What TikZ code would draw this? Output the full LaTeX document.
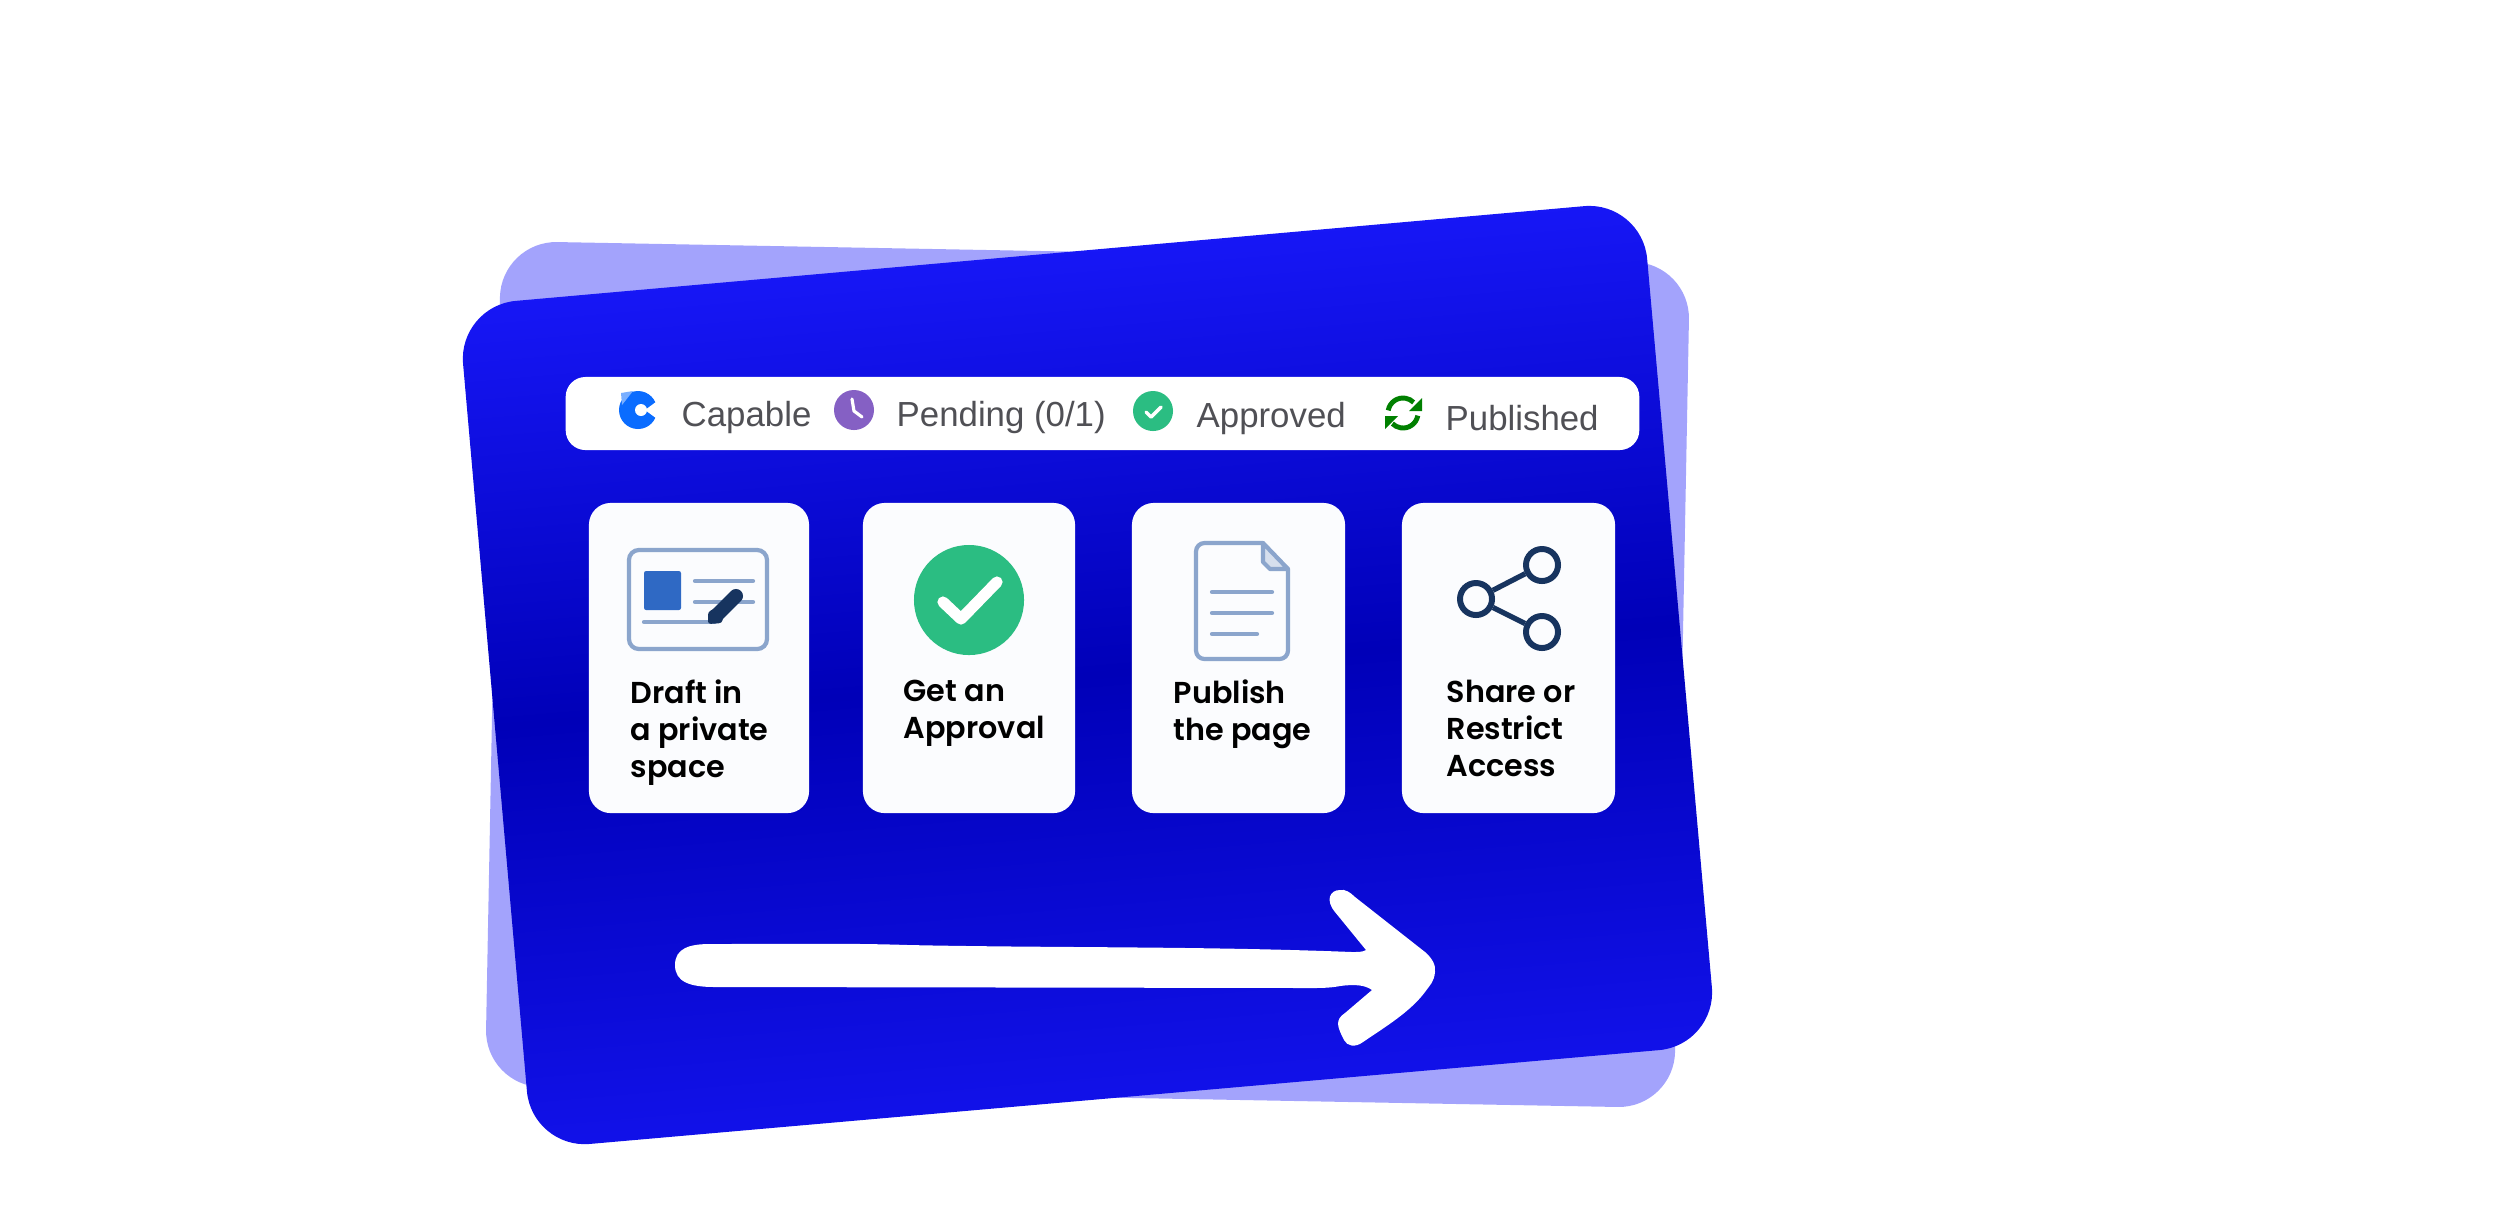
\documentclass[tikz,border=0pt]{standalone}
\usepackage{fontspec}
\setmainfont{Liberation Sans}
\newfontfamily\cardfont{Poppins}[UprightFont=* SemiBold]
\usetikzlibrary{arrows.meta, positioning}

\definecolor{backblue}{HTML}{A3A3FC}
\definecolor{topblue}{HTML}{1A1AFF}
\definecolor{darkblue}{HTML}{0000B8}
\definecolor{lowblue}{HTML}{1414F0}
\definecolor{cardwhite}{HTML}{FBFCFE}
\definecolor{iconline}{HTML}{8BA5CC}
\definecolor{iconblue}{HTML}{2F69C4}
\definecolor{icondark}{HTML}{17345F}
\definecolor{checkgreen}{HTML}{2BBD82}
\definecolor{logoblue}{HTML}{0A6CFF}
\definecolor{clockpurple}{HTML}{8560C4}
\definecolor{syncgreen}{HTML}{008000}
\definecolor{legendgrey}{HTML}{505055}

\tikzset{
    cardbox/.style={rectangle, rounded corners=6.2pt, fill=cardwhite, minimum height=3.1cm, inner sep=0pt},
    cardlabel/.style={anchor=north west, align=left, inner sep=0pt, text=black, font=\cardfont\fontsize{8.6}{10.6}\selectfont, execute at begin node=\strut},
    legendlabel/.style={anchor=base west, inner sep=0pt, text=legendgrey, font=\fontsize{9.9}{12}\selectfont},
    iconstroke/.style={draw=iconline, line width=1.2pt, line cap=round},
    sharedot/.style={circle, draw=icondark, line width=1.7pt, fill=cardwhite, minimum size=0.32cm, inner sep=0pt},
}

\begin{document}
\begin{tikzpicture}[x=0.01cm, y=-0.01cm]
    \useasboundingbox (0,0) rectangle (2500,1223);

    % Back sheet
    \fill[backblue, rounded corners=16pt] (501,241) -- (1690,263) -- (1674,1108) -- (485,1086) -- cycle;

    % Front sheet
    \shade[top color=topblue, bottom color=lowblue, middle color=darkblue, shading angle=5, rounded corners=16.5pt]
        (458,306) -- (1642,201) -- (1717,1045) -- (532,1149) -- cycle;

    % Status bar
    \node[rectangle, rounded corners=5.6pt, fill=white, minimum width=10.73cm, minimum height=0.73cm, inner sep=0pt] (statusbar) at (1102.5,413.5) {};

    % Capable
    \fill[logoblue] (638,410) circle (19);
    \fill[logoblue!55] (621,393) -- (633,391) -- (622,405) -- cycle;
    \fill[white] (641,410) circle (6);
    \fill[white] (645,410) -- (660,399) -- (660,421) -- cycle;
    \node[legendlabel] (capable) at (681,426) {Capable};

    % Pending
    \node[circle, fill=clockpurple, minimum size=0.4cm, inner sep=0pt] (clockicon) at (854,410) {};
    \draw[white, line width=0.9pt, line cap=round, line join=round] (852,399) -- (854,411) -- (862,417);
    \node[legendlabel] (pending) at (896,426) {Pending (0/1)};

    % Approved
    \node[circle, fill=checkgreen, minimum size=0.4cm, inner sep=0pt] (approvedicon) at (1153,411) {};
    \draw[white, line width=1pt, line cap=round, line join=round] (1146,412) -- (1151,417) -- (1161,407);
    \node[legendlabel] (approved) at (1196,427) {Approved};

    % Published
    \draw[syncgreen, line width=1.4pt] (1403,413) ++(190:15) arc (190:315:15);
    \draw[syncgreen, line width=1.4pt] (1403,413) ++(10:15) arc (10:135:15);
    \fill[syncgreen] (1422,398) -- (1422,411) -- (1409,411) -- cycle;
    \fill[syncgreen] (1385,429) -- (1385,416) -- (1398,416) -- cycle;
    \node[legendlabel] (published) at (1445,430) {Published};

    % Cards
    \node[cardbox, minimum width=2.2cm] (draftcard) at (699,658) {};
    \node[cardbox, minimum width=2.12cm] (approvalcard) at (969,658) {};
    \node[cardbox, minimum width=2.13cm] (publishcard) at (1238.5,658) {};
    \node[cardbox, minimum width=2.13cm] (sharecard) at (1508.5,658) {};

    % Draft icon
    \draw[iconstroke, rounded corners=2.8pt] (629,550) rectangle (767,649);
    \fill[iconblue, rounded corners=0.6pt] (644,571) rectangle (681,610);
    \draw[iconstroke] (695,581) -- (753,581);
    \draw[iconstroke] (695,602) -- (753,602);
    \draw[iconstroke] (644,622) -- (715,622);
    \draw[icondark, line width=4pt, line cap=round] (736,596) -- (716,616);
    \fill[icondark, rounded corners=0.8pt] (708,612) -- (726,602) -- (722,623) -- (708,624) -- cycle;

    % Approval icon
    \node[circle, fill=checkgreen, minimum size=1.1cm, inner sep=0pt] (approvalicon) at (969,600) {};
    \draw[white, line width=3.2pt, line cap=round, line join=round] (943,602) -- (961,619) -- (997,582);

    % Page icon
    \draw[iconstroke, line join=round, rounded corners=2.4pt] (1263,543) -- (1196,543) -- (1196,659) -- (1288,659) -- (1288,569);
    \draw[iconstroke, line join=round, fill=iconline!35] (1263,543) -- (1288,569) -- (1270,569) -- (1263,562) -- cycle;
    \draw[iconstroke] (1212,592) -- (1272,592);
    \draw[iconstroke] (1212,613) -- (1272,613);
    \draw[iconstroke] (1212,634) -- (1257,634);

    % Share icon
    \node[sharedot] (sharehub) at (1476,599) {};
    \node[sharedot] (shareup) at (1542,565) {};
    \node[sharedot] (sharedown) at (1542,632) {};
    \draw[icondark, line width=1.5pt] (sharehub) -- (shareup);
    \draw[icondark, line width=1.5pt] (sharehub) -- (sharedown);

    % Card labels
    \node[cardlabel] (drafttext) at (630,679) {Draft in\\a private\\space};
    \node[cardlabel] (approvaltext) at (903,679) {Get an\\Approval};
    \node[cardlabel] (publishtext) at (1173,679) {Publish\\the page};
    \node[cardlabel] (sharetext) at (1446,679) {Share or\\Restrict\\Access};

    % Big arrow
    \fill[white] (675,965) .. controls (675,948) and (690,944) .. (710,944)
        .. controls (780,944) and (850,943) .. (908,945)
        .. controls (1050,948) and (1200,946) .. (1352,952)
        .. controls (1358,952) and (1363,952) .. (1366,950)
        -- (1335,912)
        .. controls (1325,900) and (1330,890) .. (1340,890)
        .. controls (1345,889) and (1350,892) .. (1355,897)
        -- (1425,952)
        .. controls (1432,958) and (1436,965) .. (1435,972)
        .. controls (1434,982) and (1430,985) .. (1425,992)
        .. controls (1410,1012) and (1385,1027) .. (1363,1042)
        .. controls (1355,1048) and (1347,1046) .. (1344,1040)
        .. controls (1338,1028) and (1334,1020) .. (1345,1013)
        -- (1372,990)
        .. controls (1365,985) and (1355,984) .. (1340,986)
        .. controls (1330,988) and (1320,988) .. (1310,988)
        -- (715,987)
        .. controls (690,987) and (675,982) .. (675,965) -- cycle;
\end{tikzpicture}
\end{document}
